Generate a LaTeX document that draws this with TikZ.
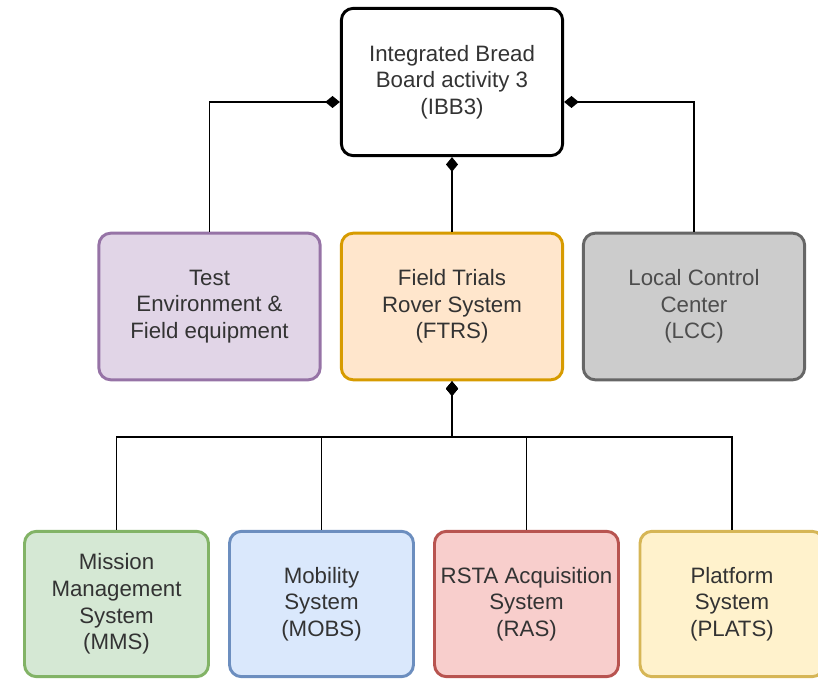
\documentclass[tikz,border=0pt]{standalone}
\usepackage{fontspec}
\setmainfont{Liberation Sans}
\usetikzlibrary{arrows.meta}
\definecolor{txt}{HTML}{333333}
\definecolor{lcctxt}{HTML}{4D4D4D}
\definecolor{purplefill}{HTML}{E1D5E7}\definecolor{purpledraw}{HTML}{9673A6}
\definecolor{orangefill}{HTML}{FFE6CC}\definecolor{orangedraw}{HTML}{D79B00}
\definecolor{grayfill}{HTML}{CCCCCC}\definecolor{graydraw}{HTML}{666666}
\definecolor{greenfill}{HTML}{D5E8D4}\definecolor{greendraw}{HTML}{82B366}
\definecolor{bluefill}{HTML}{DAE8FC}\definecolor{bluedraw}{HTML}{6C8EBF}
\definecolor{redfill}{HTML}{F8CECC}\definecolor{reddraw}{HTML}{B85450}
\definecolor{yellowfill}{HTML}{FFF2CC}\definecolor{yellowdraw}{HTML}{D6B656}
\begin{document}
\begin{tikzpicture}[x=0.75pt,y=-0.75pt,
  box/.style={rectangle, rounded corners=9pt, line width=2.2pt, align=center,
    font=\fontsize{16.7}{20}\selectfont, text=txt, inner sep=0pt},
  topbox/.style={box, draw=black, fill=white, minimum width=166pt, minimum height=110.5pt},
  midbox/.style={box, minimum width=166pt, minimum height=110pt},
  lowbox/.style={box, minimum width=138pt, minimum height=109pt},
  comp/.style={line width=1.4pt, draw=black, {Diamond[length=11pt,width=9pt]}-}
]
\clip (0,0) rectangle (818,681);
\node[topbox] (ibb) at (452,82) {Integrated Bread\\Board activity 3\\(IBB3)};
\node[midbox, draw=purpledraw, fill=purplefill] (test) at (209.5,306.5) {Test\\Environment \&\\Field equipment};
\node[midbox, draw=orangedraw, fill=orangefill] (ftrs) at (452,306.5) {Field Trials\\Rover System\\(FTRS)};
\node[midbox, draw=graydraw, fill=grayfill, text=lcctxt] (lcc) at (694,306.5) {Local Control\\Center\\(LCC)};
\node[lowbox, draw=greendraw, fill=greenfill] (mms) at (116.5,604) {Mission\\Management\\System\\(MMS)};
\node[lowbox, draw=bluedraw, fill=bluefill] (mobs) at (321.5,604) {Mobility\\System\\(MOBS)};
\node[lowbox, draw=reddraw, fill=redfill] (ras) at (526.5,604) {RSTA Acquisition\\System\\(RAS)};
\node[lowbox, draw=yellowdraw, fill=yellowfill] (plats) at (732,604) {Platform\\System\\(PLATS)};
\coordinate (bus) at (452,437);
\draw[comp] ([yshift=-15pt]ibb.west) -| (test.north);
\draw[comp] ([yshift=-15pt]ibb.east) -| (lcc.north);
\draw[comp] (ibb.south) -- (ftrs.north);
\draw[comp] (ftrs.south) -- (bus) -| (mms.north);
\draw[comp] (ftrs.south) -- (bus) -| (mobs.north);
\draw[comp] (ftrs.south) -- (bus) -| (ras.north);
\draw[comp] (ftrs.south) -- (bus) -| (plats.north);
\end{tikzpicture}
\end{document}
